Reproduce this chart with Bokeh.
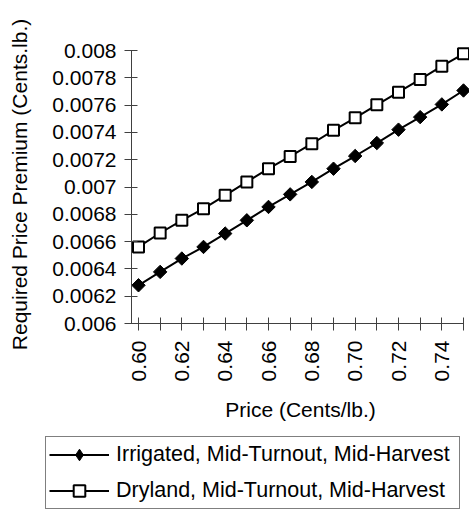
import math
from bokeh.plotting import figure
from bokeh.layouts import column
from bokeh.models import Range1d, FixedTicker, Legend, LegendItem
from bokeh.embed import file_html
from bokeh.resources import INLINE

price = [0.60, 0.61, 0.62, 0.63, 0.64, 0.65, 0.66, 0.67, 0.68, 0.69, 0.70, 0.71, 0.72, 0.73, 0.74, 0.75]
irrigated = [0.006280, 0.006378, 0.006476, 0.006561, 0.006659, 0.006756, 0.006854, 0.006946,
             0.007037, 0.007134, 0.007227, 0.007322, 0.007420, 0.007512, 0.007605, 0.007707]
dryland = [0.006561, 0.006663, 0.006756, 0.006841, 0.006939, 0.007037, 0.007134, 0.007224,
           0.007317, 0.007415, 0.007507, 0.007602, 0.007695, 0.007788, 0.007885, 0.007976]

x_major_ticks = [0.60, 0.62, 0.64, 0.66, 0.68, 0.70, 0.72, 0.74]
x_major_labels = ["0.60", "0.62", "0.64", "0.66", "0.68", "0.70", "0.72", "0.74"]
x_minor_ticks = [0.61, 0.63, 0.65, 0.67, 0.69, 0.71, 0.73, 0.75]
y_ticks = [0.006, 0.0062, 0.0064, 0.0066, 0.0068, 0.007, 0.0072, 0.0074, 0.0076, 0.0078, 0.008]
y_labels = ["0.006", "0.0062", "0.0064", "0.0066", "0.0068", "0.007", "0.0072", "0.0074",
            "0.0076", "0.0078", "0.008"]
series_names = ["Irrigated, Mid-Turnout, Mid-Harvest", "Dryland, Mid-Turnout, Mid-Harvest"]

FONT = "Liberation Sans"
FS = "21px"

x_min, x_max = x_major_ticks[0], x_minor_ticks[-1]
y_min, y_max = y_ticks[0], y_ticks[-1]
# small padding so the end markers are not clipped (px -> data units)
x_scale = 325 / (x_max - x_min)
x_pad_l = 7 / x_scale
x_pad_r = 6 / x_scale
y_pad_t = 5 / (273 / (y_max - y_min))

p = figure(width=469, height=436, output_backend="svg", toolbar_location=None,
           x_range=Range1d(x_min - x_pad_l, x_max + x_pad_r),
           y_range=Range1d(y_min, y_max + y_pad_t),
           min_border_left=131, min_border_right=0, min_border_top=45, min_border_bottom=113)
p.frame_align = False
p.outline_line_color = None
p.xgrid.visible = False
p.ygrid.visible = False
p.background_fill_color = "white"
p.border_fill_color = "white"

xa = p.xaxis[0]
xa.ticker = FixedTicker(ticks=x_major_ticks, minor_ticks=x_minor_ticks)
xa.major_label_overrides = {t: l for t, l in zip(x_major_ticks, x_major_labels)}
xa.major_label_orientation = math.pi / 2
xa.axis_label = "Price (Cents/lb.)"
xa.bounds = (x_min - x_pad_l, x_max)
ya = p.yaxis[0]
ya.ticker = FixedTicker(ticks=y_ticks)
ya.major_label_overrides = {t: l for t, l in zip(y_ticks, y_labels)}
ya.axis_label = "Required Price Premium (Cents.lb.)"
ya.bounds = (y_min, y_max)

for ax in (xa, ya):
    ax.axis_line_color = "#404040"
    ax.major_tick_line_color = "#404040"
    ax.minor_tick_line_color = "#404040"
    ax.major_tick_in = 6
    ax.major_tick_out = 7
    ax.minor_tick_in = 6
    ax.minor_tick_out = 7
    ax.major_label_text_font = FONT
    ax.major_label_text_font_size = FS
    ax.major_label_text_color = "black"
    ax.axis_label_text_font = FONT
    ax.axis_label_text_font_size = FS
    ax.axis_label_text_font_style = "normal"
    ax.axis_label_text_color = "black"
xa.major_label_standoff = 10
xa.axis_label_standoff = 14
ya.major_label_standoff = 8
ya.axis_label_standoff = 18

l1 = p.line(price, irrigated, line_color="black", line_width=2)
m1 = p.scatter(price, irrigated, marker="square", angle=math.pi / 4, size=9.5,
               fill_color="black", line_color="black", line_width=1)
l2 = p.line(price, dryland, line_color="black", line_width=2)
m2 = p.scatter(price, dryland, marker="square", size=11,
               fill_color="white", line_color="black", line_width=2)

# legend panel: a second figure whose own copies of the series lie outside its ranges
lf = figure(width=469, height=75, output_backend="svg", toolbar_location=None,
            x_range=Range1d(10, 11), y_range=Range1d(10, 11),
            min_border_left=0, min_border_right=0, min_border_top=0, min_border_bottom=0,
            x_axis_location=None, y_axis_location=None)
lf.frame_align = False
lf.outline_line_color = None
lf.xgrid.visible = False
lf.ygrid.visible = False
g1 = lf.line(price, irrigated, line_color="black", line_width=2)
h1 = lf.scatter(price, irrigated, marker="diamond", size=15,
                fill_color="black", line_color="black", line_width=1)
g2 = lf.line(price, dryland, line_color="black", line_width=2)
h2 = lf.scatter(price, dryland, marker="square", size=11,
                fill_color="white", line_color="black", line_width=2)

legend = Legend(items=[LegendItem(label=series_names[0], renderers=[g1, h1]),
                       LegendItem(label=series_names[1], renderers=[g2, h2])],
                location=(45, 2))
legend.label_text_font = FONT
legend.label_text_font_size = "21.5px"
legend.label_text_color = "black"
legend.border_line_color = "black"
legend.border_line_width = 1
legend.background_fill_alpha = 1
legend.padding = 3
legend.spacing = 7
legend.label_height = 29
legend.glyph_height = 29
legend.glyph_width = 60
legend.label_width = 340
legend.label_standoff = 7
legend.margin = 0
lf.add_layout(legend, "center")

layout = column(p, lf, spacing=0)
open("out.html", "w").write(file_html(layout, INLINE))
